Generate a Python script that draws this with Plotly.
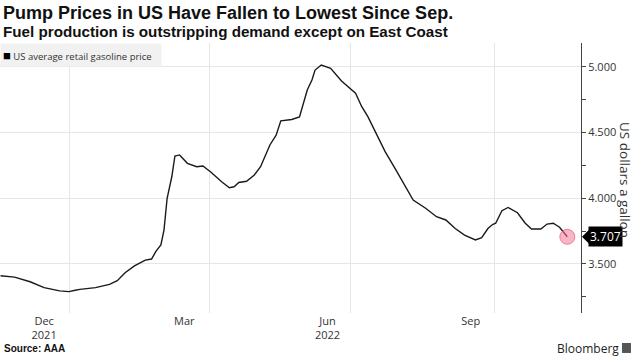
import plotly.graph_objects as go

# ---- data ----
dates = [
    "2021-11-18", "2021-11-27", "2021-12-07", "2021-12-16", "2021-12-26",
    "2022-01-01", "2022-01-05", "2022-01-08", "2022-01-18", "2022-01-27",
    "2022-02-01", "2022-02-06", "2022-02-12", "2022-02-19", "2022-02-23",
    "2022-02-26", "2022-03-01", "2022-03-03", "2022-03-05", "2022-03-08",
    "2022-03-10", "2022-03-13", "2022-03-18", "2022-03-24", "2022-03-28",
    "2022-04-02", "2022-04-09", "2022-04-14", "2022-04-17", "2022-04-20",
    "2022-04-25", "2022-04-30", "2022-05-04", "2022-05-07", "2022-05-10",
    "2022-05-14", "2022-05-17", "2022-05-24", "2022-05-29", "2022-06-03",
    "2022-06-06", "2022-06-08", "2022-06-12", "2022-06-18", "2022-06-23",
    "2022-06-25", "2022-07-04", "2022-07-08", "2022-07-12", "2022-07-17",
    "2022-07-23", "2022-07-30", "2022-08-05", "2022-08-10", "2022-08-18",
    "2022-08-25", "2022-08-31", "2022-09-06", "2022-09-12", "2022-09-19",
    "2022-09-23", "2022-09-27", "2022-09-30", "2022-10-02", "2022-10-06",
    "2022-10-10", "2022-10-16", "2022-10-21", "2022-10-25", "2022-10-31",
    "2022-11-04", "2022-11-08", "2022-11-12", "2022-11-17",
]
price = [
    3.410, 3.400, 3.365, 3.320, 3.295,
    3.290, 3.300, 3.307, 3.320, 3.345,
    3.373, 3.434, 3.485, 3.530, 3.538,
    3.600, 3.645, 3.760, 4.000, 4.164,
    4.322, 4.330, 4.266, 4.240, 4.246,
    4.200, 4.126, 4.080, 4.088, 4.120,
    4.130, 4.177, 4.240, 4.320, 4.406,
    4.480, 4.590, 4.600, 4.620, 4.824,
    4.900, 4.976, 5.014, 4.990, 4.925,
    4.893, 4.800, 4.697, 4.620, 4.495,
    4.355, 4.215, 4.088, 3.987, 3.924,
    3.860, 3.835, 3.770, 3.720, 3.683,
    3.700, 3.770, 3.800, 3.810, 3.906,
    3.930, 3.890, 3.810, 3.766, 3.766,
    3.804, 3.810, 3.780, 3.707,
]
series_name = "US average retail gasoline price"
tick_dates = ["2021-12-16", "2022-03-16", "2022-06-16", "2022-09-16"]
tick_text = ["Dec<br>2021", "Mar", "Jun<br>2022", "Sep"]
grid_dates = ["2022-01-01", "2022-04-01", "2022-07-01", "2022-10-01"]
y_ticks = [3.5, 4.0, 4.5, 5.0]
y_tick_text = ["3.500", "4.000", "4.500", "5.000"]
last_label = "3.707"

FONT = "Open Sans"

fig = go.Figure()
fig.add_trace(go.Scatter(
    x=dates, y=price, mode="lines", name=series_name,
    line=dict(color="#1a1a1a", width=1.4), showlegend=False, hoverinfo="skip",
))
fig.add_trace(go.Scatter(
    x=[dates[-1]], y=[price[-1]], mode="markers", showlegend=False,
    marker=dict(size=15, color="rgba(244,120,150,0.55)",
                line=dict(color="rgba(230,90,120,0.7)", width=1)),
    hoverinfo="skip",
))

fig.update_layout(
    width=634, height=356,
    margin=dict(l=0, r=53, t=43, b=43),
    paper_bgcolor="white", plot_bgcolor="white",
    font=dict(family=FONT, color="#333"),
    hovermode=False,
    xaxis=dict(
        type="date",
        range=["2021-11-17 16:00", "2022-11-25 19:00"],
        tickmode="array", tickvals=tick_dates, ticktext=tick_text,
        showgrid=False, ticks="", showline=False, zeroline=False,
        tickfont=dict(size=11, color="#333", family=FONT),
        minor=dict(tickmode="array", tickvals=grid_dates, showgrid=True,
                   gridcolor="#e6e6e6", gridwidth=1, ticks=""),
    ),
    yaxis=dict(
        side="right", range=[3.127, 5.182],
        tickmode="array", tickvals=y_ticks, ticktext=y_tick_text,
        showgrid=True, gridcolor="#e6e6e6", gridwidth=1,
        showline=True, linecolor="#444", linewidth=1,
        ticks="outside", ticklen=4, tickcolor="#444",
        tickfont=dict(size=11, color="#333", family=FONT),
        zeroline=False,
        minor=dict(dtick=0.25, tick0=3.25, ticks="outside", ticklen=4,
                   tickcolor="#444", showgrid=False),
    ),
)

ann = []
ann.append(dict(text="<b>Pump Prices in US Have Fallen to Lowest Since Sep.</b>",
                x=0, y=1.111, xref="paper", yref="paper", xanchor="left",
                yanchor="middle", showarrow=False, xshift=1,
                font=dict(size=18, color="#111", family="Liberation Sans")))
ann.append(dict(text="<b>Fuel production is outstripping demand except on East Coast</b>",
                x=0, y=1.044, xref="paper", yref="paper", xanchor="left",
                yanchor="middle", showarrow=False, xshift=1,
                font=dict(size=15.2, color="#111", family="Liberation Sans")))
ann.append(dict(text="<span style='font-size:13px;color:#000'>■</span> " + series_name,
                x=0, y=1.0, xref="paper", yref="paper", xanchor="left",
                yanchor="top", showarrow=False, bgcolor="#f1f1f1",
                width=156, height=18, align="left", borderpad=2,
                font=dict(size=9.5, color="#333", family=FONT)))
ann.append(dict(text=last_label, x=1, y=price[-1], xref="paper", yref="y",
                xanchor="left", yanchor="middle", xshift=7, showarrow=False,
                bgcolor="#000", borderpad=1,
                font=dict(size=12, color="white", family=FONT)))
ann.append(dict(text="US dollars a gallon", x=1.0757, y=0.4926,
                xref="paper", yref="paper", xanchor="center", yanchor="middle",
                textangle=90, showarrow=False,
                font=dict(size=13.5, color="#333", family=FONT)))
ann.append(dict(text="<b>Source: AAA</b>", x=0, y=-0.133, xref="paper",
                yref="paper", xanchor="left", yanchor="middle", xshift=2,
                showarrow=False,
                font=dict(size=10, color="#111", family="Liberation Sans")))
ann.append(dict(text="Bloomberg", x=1.068, y=-0.13, xref="paper",
                yref="paper", xanchor="right", yanchor="middle",
                showarrow=False,
                font=dict(size=12, color="#222", family=FONT)))
fig.update_layout(annotations=ann)

fig.add_shape(type="path", xref="paper", yref="y", xsizemode="pixel",
              ysizemode="pixel", xanchor=1, yanchor=price[-1],
              path="M 1,0 L 8,7 L 8,-7 Z", fillcolor="#000", line=dict(width=0))
fig.add_shape(type="rect", xref="paper", yref="paper",
              x0=1.0706, x1=1.086, y0=-0.148, y1=-0.111,
              fillcolor="#555", line=dict(width=0))

fig.write_html("out.html", config={"displayModeBar": False, "staticPlot": True},
               post_script="document.body.style.margin='0';document.body.style.padding='0';")
